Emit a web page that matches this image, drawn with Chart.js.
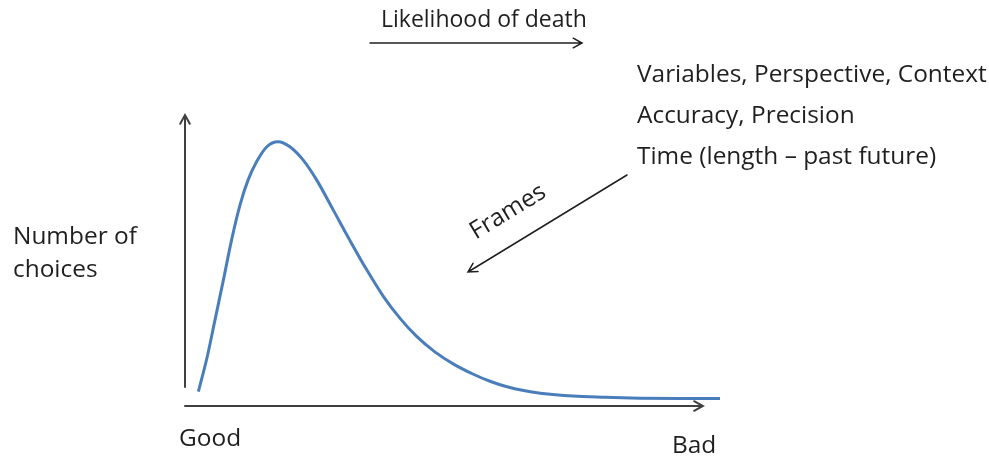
<!DOCTYPE html>
<html>
<head>
<meta charset="utf-8">
<script src="https://cdn.jsdelivr.net/npm/chart.js@4/dist/chart.umd.min.js"></script>
<style>
  html, body { margin: 0; padding: 0; background: #fff; }
  #wrap { width: 989px; height: 456px; position: relative; }
</style>
</head>
<body>
<div id="wrap"><canvas id="chart"></canvas></div>
<script>
// Curve: position from Good (0) to Bad (100), number of choices (0-100)
const positions = [2.5, 4.1, 5.6, 7.2, 8.7, 10.3, 11.8, 13.4, 15.3, 17.4, 19.6, 22.1, 24.6, 27.7, 30.8, 34.0, 37.1, 40.2, 43.3, 46.7, 50.2, 53.8, 57.0, 60.2, 63.3, 66.4, 72.5, 78.5, 85, 92.5, 100];
const choices = [4.9, 16.5, 29.5, 43.5, 57.0, 69.2, 77.7, 84.0, 89.1, 90.8, 89.1, 84.5, 77.7, 67.4, 57.0, 46.7, 37.6, 30.1, 23.9, 18.6, 14.4, 11.0, 8.5, 6.6, 5.3, 4.4, 3.4, 3.0, 2.7, 2.6, 2.6];

const xAxisLabels = ['Good', 'Bad'];
const yAxisLabel = ['Number of', 'choices'];
const topLabel = 'Likelihood of death';
const frameLines = ['Variables, Perspective, Context', 'Accuracy, Precision', 'Time (length \u2013 past future)'];
const arrowLabel = 'Frames';

const FONT = '"Open Sans", Lato, sans-serif';
const INK = '#1f1f1f';
const AXIS = '#404040';

function arrow(ctx, x1, y1, x2, y2, color, width) {
  const a = Math.atan2(y2 - y1, x2 - x1);
  const h = 10;
  ctx.save();
  ctx.strokeStyle = color;
  ctx.lineWidth = width;
  ctx.lineCap = 'round';
  ctx.beginPath();
  ctx.moveTo(x1, y1);
  ctx.lineTo(x2, y2);
  ctx.moveTo(x2 - h * Math.cos(a - 0.5), y2 - h * Math.sin(a - 0.5));
  ctx.lineTo(x2, y2);
  ctx.lineTo(x2 - h * Math.cos(a + 0.5), y2 - h * Math.sin(a + 0.5));
  ctx.stroke();
  ctx.restore();
}

// pick the font size so that a line of text is as wide as in the slide
function sizeFor(ctx, text, width) {
  ctx.font = '20px ' + FONT;
  return 20 * width / ctx.measureText(text).width;
}

// axes with arrow heads plus the free text of the diagram
const decorations = {
  id: 'decorations',
  beforeDatasetsDraw(chart) {
    const { ctx, scales: { x, y } } = chart;
    // vertical axis
    arrow(ctx, x.getPixelForValue(0), y.getPixelForValue(6.5), x.getPixelForValue(0), y.getPixelForValue(100), AXIS, 2);
    // horizontal axis
    arrow(ctx, x.getPixelForValue(0), y.getPixelForValue(0), x.getPixelForValue(96.8), y.getPixelForValue(0), AXIS, 2);
  },
  afterDatasetsDraw(chart) {
    const { ctx } = chart;
    ctx.save();
    ctx.fillStyle = INK;
    ctx.textBaseline = 'middle';
    ctx.textAlign = 'left';

    const small = sizeFor(ctx, topLabel, 206);
    const body = sizeFor(ctx, frameLines[0], 350);

    ctx.font = small + 'px ' + FONT;
    ctx.fillText(topLabel, 381, 20);
    arrow(ctx, 370, 43, 582, 43, INK, 1.5);

    ctx.font = body + 'px ' + FONT;
    frameLines.forEach((t, i) => ctx.fillText(t, 637, 75 + i * 41));

    ctx.fillText(yAxisLabel[0], 13, 237);
    ctx.fillText(yAxisLabel[1], 13, 270);

    ctx.fillText(xAxisLabels[0], 179, 439);
    ctx.fillText(xAxisLabels[1], 672, 446);

    arrow(ctx, 627, 175, 468, 272, INK, 1.5);
    ctx.save();
    ctx.translate(508, 212);
    ctx.rotate(-Math.atan2(97, 159));
    ctx.textAlign = 'center';
    ctx.font = body + 'px ' + FONT;
    ctx.fillText(arrowLabel, 0, 0);
    ctx.restore();

    ctx.restore();
  },
};

new Chart(document.getElementById('chart'), {
  type: 'line',
  data: {
    datasets: [{
      data: positions.map((p, i) => ({ x: p, y: choices[i] })),
      borderColor: '#4A7EBB',
      borderWidth: 3,
      pointRadius: 0,
      cubicInterpolationMode: 'monotone',
      fill: false,
    }],
  },
  options: {
    responsive: true,
    maintainAspectRatio: false,
    animation: false,
    layout: { padding: { left: 185, right: 269, top: 115, bottom: 50 } },
    scales: {
      x: { type: 'linear', min: 0, max: 100, display: false },
      y: { min: 0, max: 100, display: false },
    },
    plugins: {
      legend: { display: false },
      tooltip: { enabled: false },
    },
  },
  plugins: [decorations],
});
</script>
</body>
</html>
